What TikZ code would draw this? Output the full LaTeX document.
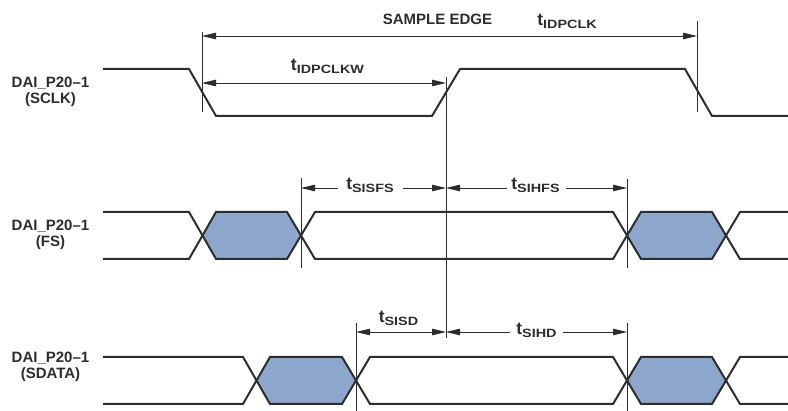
\documentclass[tikz,border=0pt]{standalone}
\usepackage{fontspec}
\usepackage{graphicx}
\setmainfont{Liberation Sans}
\usetikzlibrary{arrows.meta}
\definecolor{ink}{RGB}{45,45,45}
\definecolor{busfill}{RGB}{141,166,204}
\newcommand{\tsub}[1]{{\fontsize{17.5}{18}\selectfont t}\raisebox{-3pt}{\fontsize{12}{13}\selectfont\scalebox{1.2}[1]{#1}}}
\tikzset{
  sig/.style={draw=ink, line width=2pt, line join=miter},
  vline/.style={draw=ink, line width=0.8pt},
  dimline/.style={draw=ink, line width=0.8pt},
  tip/.style={-{Triangle[length=14pt,width=6.5pt]}},
  dtip/.style={{Triangle[length=14pt,width=6.5pt]}-{Triangle[length=14pt,width=6.5pt]}},
  lbl/.style={text=ink, font=\bfseries\fontsize{15}{16}\selectfont, align=center, inner sep=0pt},
  tlbl/.style={text=ink, font=\bfseries\fontsize{15}{16}\selectfont, inner sep=0pt, anchor=base},
  hex/.style={fill=busfill, draw=none}
}
\begin{document}
\begin{tikzpicture}[x=1pt,y=-1pt]
\useasboundingbox (0,0) rectangle (788,411);

% signal labels
\node[lbl] (lsclk) at (50.5,92) {DAI\_P20–1\\(SCLK)};
\node[lbl] (lfs) at (50.5,235) {DAI\_P20–1\\(FS)};
\node[lbl] (lsd) at (50.5,367) {DAI\_P20–1\\(SDATA)};

% hexagon fills
\fill[hex] (202.5,235.5) -- (216,212) -- (287,212) -- (301,235.5) -- (287,259) -- (216,259) -- cycle;
\fill[hex] (627,235.5) -- (641,212) -- (712,212) -- (726,235.5) -- (712,259) -- (641,259) -- cycle;
\fill[hex] (256.5,380.5) -- (270,357) -- (342,357) -- (356,380.5) -- (342,404) -- (270,404) -- cycle;
\fill[hex] (627,380.5) -- (641,357) -- (712,357) -- (726,380.5) -- (712,404) -- (641,404) -- cycle;

% SCLK
\draw[sig] (103,69) -- (189,69) -- (216,116) -- (432,116) -- (460,69) -- (685,69) -- (712,116) -- (788,116);

% FS
\draw[sig] (103,212) -- (189,212) -- (216,259) -- (287,259) -- (315,212) -- (613,212) -- (641,259) -- (712,259) -- (740,212) -- (788,212);
\draw[sig] (103,259) -- (189,259) -- (216,212) -- (287,212) -- (315,259) -- (613,259) -- (641,212) -- (712,212) -- (740,259) -- (788,259);

% SDATA
\draw[sig] (103,357) -- (243,357) -- (270,404) -- (342,404) -- (370,357) -- (613,357) -- (641,404) -- (712,404) -- (740,357) -- (788,357);
\draw[sig] (103,404) -- (243,404) -- (270,357) -- (342,357) -- (370,404) -- (613,404) -- (641,357) -- (712,357) -- (740,404) -- (788,404);

% vertical reference lines
\coordinate (a1) at (202,32);  \coordinate (a2) at (202,112);
\coordinate (b1) at (697,21);  \coordinate (b2) at (697,112);
\coordinate (s1) at (446,77);  \coordinate (s2) at (446,338);
\coordinate (c1) at (301,178); \coordinate (c2) at (301,268);
\coordinate (d1) at (627,179); \coordinate (d2) at (627,268);
\coordinate (e1) at (356,323); \coordinate (e2) at (356,411);
\coordinate (f1) at (627,323); \coordinate (f2) at (627,411);
\draw[vline] (a1) -- (a2);
\draw[vline] (b1) -- (b2);
\draw[vline] (s1) -- (s2);
\draw[vline] (c1) -- (c2);
\draw[vline] (d1) -- (d2);
\draw[vline] (e1) -- (e2);
\draw[vline] (f1) -- (f2);

% tIDPCLK
\coordinate (p1) at (202,36); \coordinate (p2) at (697,36);
\draw[dimline,dtip] (p1) -- (p2);
\node[tlbl] (sampleedge) at (437.5,25) {SAMPLE EDGE};
\node[tlbl] (tidpclk) at (567,26) {\tsub{IDPCLK}};

% tIDPCLKW
\coordinate (q1) at (202,83); \coordinate (q2) at (446,83);
\draw[dimline,dtip] (q1) -- (q2);
\node[tlbl] (tidpclkw) at (327.5,71) {\tsub{IDPCLKW}};

% tSISFS
\node[tlbl] (tsisfs) at (370,190) {\tsub{SISFS}};
\coordinate (r1) at (301,188); \coordinate (r2) at (338,188);
\coordinate (r3) at (403,188); \coordinate (r4) at (446,188);
\draw[dimline,tip] (r2) -- (r1);
\draw[dimline,tip] (r3) -- (r4);

% tSIHFS
\node[tlbl] (tsihfs) at (535.5,190) {\tsub{SIHFS}};
\coordinate (h1) at (446,188); \coordinate (h2) at (507,188);
\coordinate (h3) at (566,188); \coordinate (h4) at (627,188);
\draw[dimline,tip] (h2) -- (h1);
\draw[dimline,tip] (h3) -- (h4);

% tSISD
\coordinate (u1) at (356,332); \coordinate (u2) at (446,332);
\draw[dimline,dtip] (u1) -- (u2);
\node[tlbl] (tsisd) at (398.5,323) {\tsub{SISD}};

% tSIHD
\node[tlbl] (tsihd) at (536.5,335) {\tsub{SIHD}};
\coordinate (v1) at (446,332); \coordinate (v2) at (510,332);
\coordinate (v3) at (563,332); \coordinate (v4) at (627,332);
\draw[dimline,tip] (v2) -- (v1);
\draw[dimline,tip] (v3) -- (v4);
\end{tikzpicture}
\end{document}
